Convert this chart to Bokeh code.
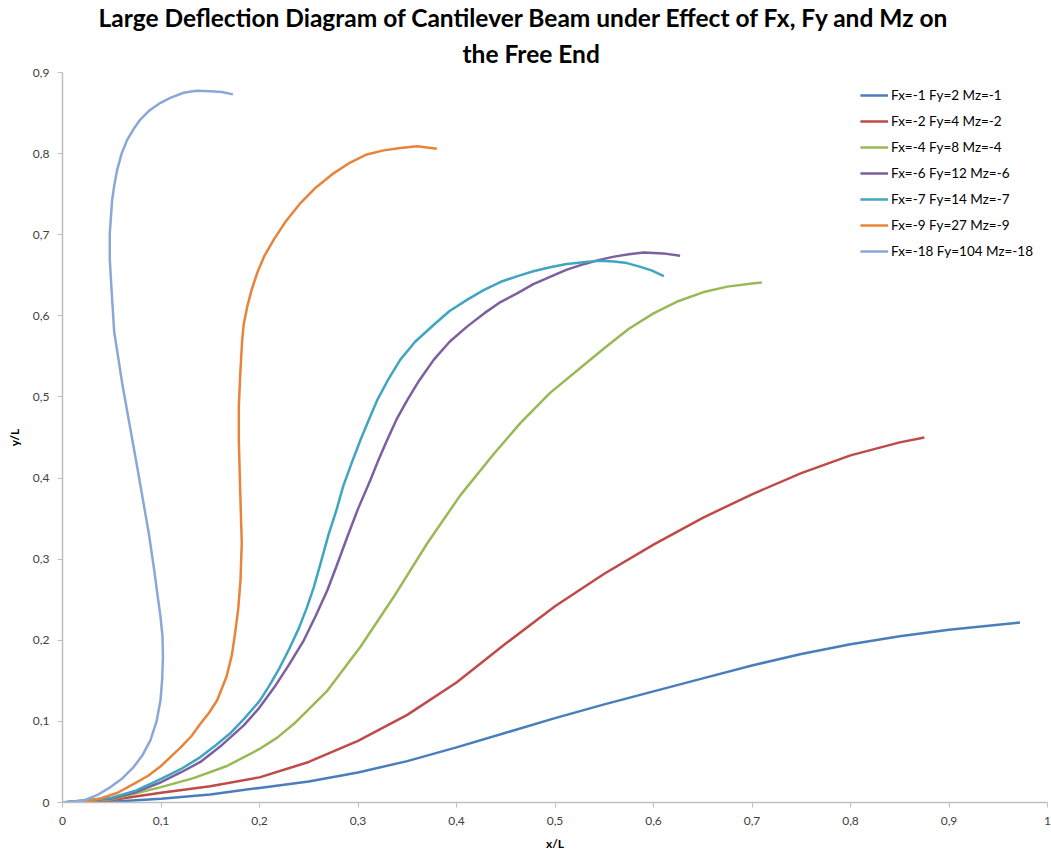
from bokeh.plotting import figure
from bokeh.models import Title, FixedTicker, Range1d, Legend, LegendItem
from bokeh.embed import file_html
from bokeh.resources import INLINE

# ---------------- data ----------------
x_ticks = [0, 0.1, 0.2, 0.3, 0.4, 0.5, 0.6, 0.7, 0.8, 0.9, 1.0]
x_tick_labels = ["0", "0,1", "0,2", "0,3", "0,4", "0,5", "0,6", "0,7", "0,8", "0,9", "1"]
y_ticks = [0, 0.1, 0.2, 0.3, 0.4, 0.5, 0.6, 0.7, 0.8, 0.9]
y_tick_labels = ["0", "0,1", "0,2", "0,3", "0,4", "0,5", "0,6", "0,7", "0,8", "0,9"]

title_lines = ["Large Deflection Diagram of Cantilever Beam under Effect of Fx, Fy and Mz on",
               "the Free End"]

series_names = [
    "Fx=-1 Fy=2 Mz=-1",
    "Fx=-2 Fy=4 Mz=-2",
    "Fx=-4 Fy=8 Mz=-4",
    "Fx=-6 Fy=12 Mz=-6",
    "Fx=-7 Fy=14 Mz=-7",
    "Fx=-9 Fy=27 Mz=-9",
    "Fx=-18 Fy=104 Mz=-18",
]

x1 = [0, 0.05, 0.1, 0.15, 0.2, 0.25, 0.3, 0.35, 0.4, 0.45, 0.5, 0.55, 0.6, 0.65, 0.7, 0.75, 0.8, 0.85, 0.9, 0.95, 0.972]
y1 = [0, 0.001, 0.0045, 0.01, 0.018, 0.026, 0.037, 0.051, 0.068, 0.086, 0.104, 0.121, 0.137, 0.153, 0.169, 0.183, 0.195, 0.205, 0.213, 0.219, 0.222]

x2 = [0, 0.05, 0.1, 0.15, 0.2, 0.25, 0.3, 0.35, 0.4, 0.45, 0.5, 0.55, 0.6, 0.65, 0.7, 0.75, 0.8, 0.85, 0.875]
y2 = [0, 0.003, 0.012, 0.02, 0.031, 0.05, 0.076, 0.108, 0.148, 0.196, 0.242, 0.282, 0.318, 0.351, 0.38, 0.406, 0.428, 0.444, 0.45]

x3 = [0, 0.05, 0.1, 0.133, 0.167, 0.2, 0.218, 0.235, 0.269, 0.3025, 0.336, 0.37, 0.404, 0.438, 0.465, 0.495, 0.525, 0.55, 0.575, 0.6, 0.625, 0.65, 0.675, 0.7, 0.71]
y3 = [0, 0.004, 0.019, 0.03, 0.045, 0.066, 0.08, 0.097, 0.138, 0.192, 0.253, 0.319, 0.379, 0.43, 0.468, 0.505, 0.535, 0.56, 0.584, 0.603, 0.618, 0.629, 0.636, 0.64, 0.641]

x4 = [0, 0.05, 0.075, 0.1, 0.12, 0.14, 0.162, 0.184, 0.2, 0.215, 0.23, 0.245, 0.257, 0.269, 0.279, 0.289, 0.3, 0.3127, 0.321, 0.3296, 0.339, 0.35, 0.362, 0.377, 0.393, 0.411, 0.428, 0.4447, 0.462, 0.478, 0.495, 0.512, 0.53, 0.545, 0.56, 0.575, 0.59, 0.61, 0.627]
y4 = [0, 0.005, 0.013, 0.025, 0.037, 0.05, 0.071, 0.095, 0.117, 0.142, 0.17, 0.2, 0.23, 0.262, 0.294, 0.327, 0.362, 0.398, 0.423, 0.447, 0.472, 0.496, 0.52, 0.546, 0.568, 0.587, 0.603, 0.617, 0.628, 0.639, 0.648, 0.657, 0.664, 0.669, 0.673, 0.676, 0.678, 0.677, 0.674]

x5 = [0, 0.05, 0.075, 0.1, 0.12, 0.14, 0.155, 0.17, 0.185, 0.2, 0.21, 0.22, 0.23, 0.24, 0.248, 0.255, 0.2625, 0.27, 0.278, 0.285, 0.294, 0.3025, 0.311, 0.3195, 0.33, 0.343, 0.358, 0.377, 0.393, 0.411, 0.428, 0.445, 0.462, 0.478, 0.495, 0.512, 0.529, 0.545, 0.56, 0.573, 0.585, 0.598, 0.6105]
y5 = [0, 0.006, 0.015, 0.029, 0.041, 0.056, 0.07, 0.085, 0.104, 0.125, 0.144, 0.165, 0.189, 0.215, 0.24, 0.265, 0.297, 0.33, 0.36, 0.39, 0.42, 0.447, 0.472, 0.496, 0.52, 0.546, 0.568, 0.589, 0.606, 0.62, 0.632, 0.642, 0.649, 0.655, 0.66, 0.664, 0.666, 0.668, 0.667, 0.665, 0.661, 0.656, 0.649]

x6 = [0, 0.02, 0.0386, 0.056, 0.0724, 0.087, 0.1, 0.12, 0.131, 0.14, 0.149, 0.157, 0.1665, 0.172, 0.1756, 0.1785, 0.1807, 0.182, 0.1805, 0.179, 0.179, 0.1805, 0.1824, 0.184, 0.1875, 0.192, 0.1977, 0.205, 0.2145, 0.227, 0.2416, 0.257, 0.2755, 0.292, 0.309, 0.326, 0.343, 0.36, 0.38]
y6 = [0, 0.001, 0.005, 0.012, 0.023, 0.033, 0.045, 0.068, 0.082, 0.097, 0.111, 0.126, 0.155, 0.182, 0.212, 0.24, 0.274, 0.32, 0.38, 0.447, 0.488, 0.529, 0.57, 0.59, 0.611, 0.632, 0.653, 0.674, 0.694, 0.717, 0.739, 0.758, 0.776, 0.789, 0.799, 0.804, 0.807, 0.809, 0.806]

x7 = [0, 0.0216, 0.035, 0.0487, 0.061, 0.0724, 0.0815, 0.0893, 0.0955, 0.0995, 0.1012, 0.102, 0.1015, 0.0995, 0.096, 0.0927, 0.0876, 0.0758, 0.0606, 0.0525, 0.0504, 0.048, 0.048, 0.0504, 0.0527, 0.0555, 0.06, 0.0657, 0.072, 0.079, 0.088, 0.0995, 0.11, 0.123, 0.136, 0.15, 0.162, 0.173]
y7 = [0, 0.0025, 0.009, 0.019, 0.03, 0.044, 0.059, 0.077, 0.1, 0.126, 0.152, 0.179, 0.205, 0.229, 0.26, 0.29, 0.332, 0.414, 0.517, 0.58, 0.62, 0.669, 0.702, 0.743, 0.762, 0.78, 0.8, 0.817, 0.83, 0.842, 0.853, 0.8626, 0.869, 0.875, 0.8775, 0.877, 0.876, 0.873]

series_x = [x1, x2, x3, x4, x5, x6, x7]
series_y = [y1, y2, y3, y4, y5, y6, y7]
colors = ["#4A7EBB", "#BE4B48", "#98B954", "#7D5FA0", "#3FA5C0", "#E8843A", "#8AA8D6"]

# ---------------- figure ----------------
FONT = "Lato"
p = figure(
    width=1051, height=854,
    output_backend="svg", toolbar_location=None,
    x_range=Range1d(0, 1), y_range=Range1d(0, 0.9),
    min_border_left=62, min_border_right=4, min_border_bottom=52, min_border_top=0,
)
p.title = None
p.add_layout(Title(text=title_lines[1], align="left", text_font=FONT,
                   text_font_size="24.5px", text_font_style="bold", text_color="#000000",
                   standoff=10, offset=400), "above")
p.add_layout(Title(text=title_lines[0], align="left", text_font=FONT,
                   text_font_size="24.5px", text_font_style="bold", text_color="#000000",
                   standoff=0, offset=36), "above")

p.xgrid.visible = False
p.ygrid.visible = False
p.outline_line_color = None
p.background_fill_color = "white"
p.border_fill_color = "white"

for ax, ticks, labels in ((p.xaxis[0], x_ticks, x_tick_labels), (p.yaxis[0], y_ticks, y_tick_labels)):
    ax.ticker = FixedTicker(ticks=ticks)
    ax.major_label_overrides = {t: l for t, l in zip(ticks, labels)}
    ax.axis_line_color = "#BFBFBF"
    ax.axis_line_width = 1.5
    ax.major_tick_line_color = "#BFBFBF"
    ax.major_tick_out = 5
    ax.major_tick_in = 0
    ax.minor_tick_out = 0
    ax.minor_tick_in = 0
    ax.major_label_text_font = FONT
    ax.major_label_text_font_size = "12px"
    ax.major_label_text_color = "#404040"
    ax.axis_label_text_font = FONT
    ax.axis_label_text_font_size = "12px"
    ax.axis_label_text_font_style = "bold"
    ax.axis_label_text_color = "#000000"

p.xaxis.axis_label = "x/L"
p.yaxis.axis_label = "y/L"
p.xaxis.major_label_standoff = 9
p.yaxis.major_label_standoff = 8
p.xaxis.axis_label_standoff = 8
p.yaxis.axis_label_standoff = 8

items = []
for name, xs, ys, c in zip(series_names, series_x, series_y, colors):
    r = p.line(xs, ys, line_color=c, line_width=2.5, line_join="round")
    items.append(LegendItem(label=name, renderers=[r]))

legend = Legend(items=items, location="top_right")
legend.border_line_color = None
legend.background_fill_alpha = 0
legend.label_text_font = FONT
legend.label_text_font_size = "13.5px"
legend.label_text_color = "#000000"
legend.glyph_width = 28
legend.glyph_height = 18
legend.label_standoff = 3
legend.spacing = 8
legend.margin = 14
legend.padding = 4
p.add_layout(legend)

open("out.html", "w").write(file_html(p, INLINE))
